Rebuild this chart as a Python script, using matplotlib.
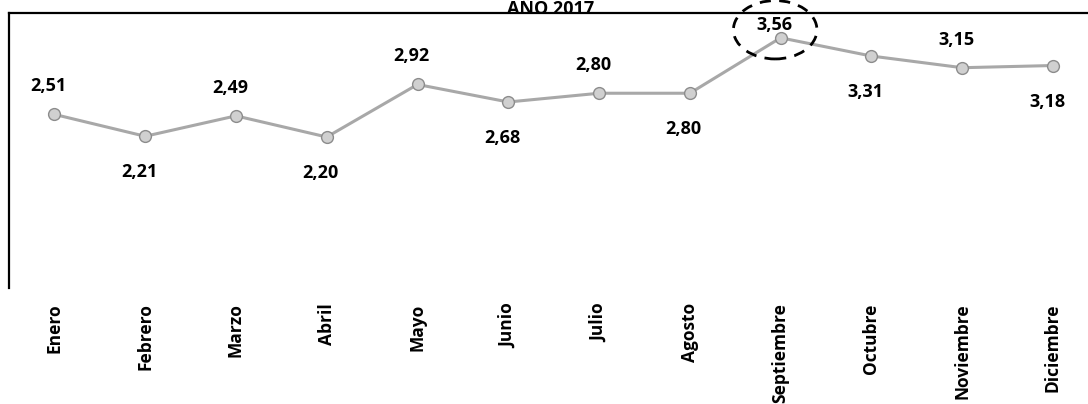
import matplotlib.pyplot as plt
from matplotlib.patches import Ellipse
import numpy as np

meses = ["Enero", "Febrero", "Marzo", "Abril", "Mayo", "Junio", "Julio",
         "Agosto", "Septiembre", "Octubre", "Noviembre", "Diciembre"]
valores = [2.51, 2.21, 2.49, 2.20, 2.92, 2.68, 2.80, 2.80, 3.56, 3.31, 3.15, 3.18]
etiquetas = ["2,51", "2,21", "2,49", "2,20", "2,92", "2,68", "2,80", "2,80",
             "3,56", "3,31", "3,15", "3,18"]
# etiqueta arriba (1) o abajo (-1)
lado = [1, -1, 1, -1, 1, -1, 1, -1, 1, -1, 1, -1]

plt.rcParams['font.family'] = ['Open Sans', 'DejaVu Sans']

fig = plt.figure(figsize=(10.88, 4.04), dpi=100)
ax = fig.add_axes([9/1088, 116/404, 1 - 9/1088, 275/404])

x = np.arange(len(meses))
ax.plot(x, valores, color="#a8a8a8", lw=2.2, marker="o", markersize=8.5,
        markerfacecolor="#d0d0d0", markeredgecolor="#8c8c8c", markeredgewidth=1.0,
        zorder=3)

for i, (v, t, s) in enumerate(zip(valores, etiquetas, lado)):
    if i == 8:
        dy = 13
    elif s > 0:
        dy = 28
    else:
        dy = -36
    ax.annotate(t, (i, v), xytext=(-6, dy), textcoords="offset pixels",
                ha="center", va="center", fontsize=13, fontweight="bold")

# elipse punteada alrededor de septiembre
ax.add_patch(Ellipse((8 - 0.06, valores[8] + 0.11), 0.92, 0.80, fill=False,
                     edgecolor="black", lw=2, linestyle=(0, (4, 3)), clip_on=False,
                     zorder=4))

ax.set_xlim(-0.5, 11.386)
ax.set_ylim(0.13, 3.9)
ax.set_xticks(x)
ax.set_xticklabels(meses, rotation=90, fontsize=12.5, fontweight="bold")
ax.tick_params(axis="x", length=0, pad=11)
ax.set_yticks([])
ax.spines["right"].set_visible(False)
ax.spines["bottom"].set_visible(False)
ax.spines["left"].set_linewidth(1.6)
ax.spines["top"].set_linewidth(1.6)

fig.text(551/1088, 1.0, "AÑO 2017", ha="center", va="top",
         fontsize=13, fontweight="bold")

plt.savefig("out.png", dpi=100)
